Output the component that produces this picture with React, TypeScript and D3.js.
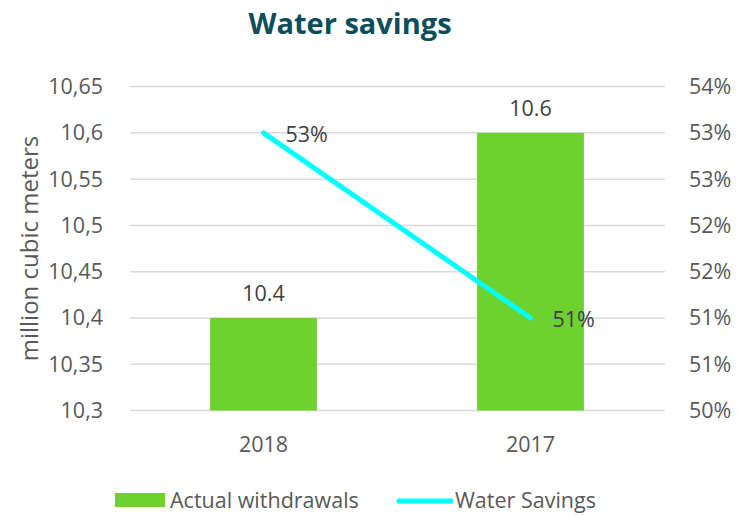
import React from "react";
import * as d3 from "d3";

const categories = ["2018", "2017"];
const withdrawals = [10.4, 10.6];
const savings = [0.53, 0.51];
const leftTicks = [10.3, 10.35, 10.4, 10.45, 10.5, 10.55, 10.6, 10.65];
const rightTicks = [0.5, 0.505, 0.51, 0.515, 0.52, 0.525, 0.53, 0.535];

const W = 738;
const H = 516;
const FONT = "'Open Sans', 'Noto Sans', sans-serif";
const TXT = "#595959";
const FS = 21.5;

export default function App() {
  const x = d3.scaleBand<string>().domain(categories).range([130, 664]).paddingInner(0.6).paddingOuter(0.3);
  const y = d3.scaleLinear().domain([10.3, 10.65]).range([410.5, 86.6]);
  const y2 = d3.scaleLinear().domain([0.5, 0.535]).range([410.5, 86.6]);
  const fmtL = (v: number) => {
    const s = d3.format(".2f")(v).replace(/0$/, "").replace(/\.$/, "");
    return s.replace(".", ",");
  };
  const fmtR = (v: number) => Math.round(v * 100 + 1e-9) + "%";
  const cx = (c: string) => (x(c) as number) + x.bandwidth() / 2;
  const line = d3
    .line<number>()
    .x((_, i) => cx(categories[i]))
    .y((d) => y2(d));

  return (
    <svg width={W} height={H} style={{ position: "absolute", left: 0, top: 0 }} fontFamily={FONT}>
      <rect width={W} height={H} fill="#fff" />
      <text x={350} y={34} textAnchor="middle" fontSize={29} fontWeight={700} fill="#0E4D5C">
        Water savings
      </text>
      {leftTicks.map((t) => (
        <g key={t}>
          <line x1={130} x2={665} y1={y(t)} y2={y(t)} stroke="#D9D9D9" strokeWidth={1.5} />
          <text x={103} y={y(t)} dy="0.35em" textAnchor="end" fontSize={FS} fill={TXT}>
            {fmtL(t)}
          </text>
        </g>
      ))}
      {rightTicks.map((t) => (
        <text key={t} x={689} y={y2(t)} dy="0.35em" textAnchor="start" fontSize={FS} fill={TXT}>
          {fmtR(t)}
        </text>
      ))}
      <text
        transform={`translate(30,${(410.5 + 86.6) / 2}) rotate(-90)`}
        textAnchor="middle"
        dy="0.35em"
        fontSize={24}
        fill={TXT}
      >
        million cubic meters
      </text>
      {categories.map((c, i) => (
        <g key={c}>
          <rect x={x(c)} y={y(withdrawals[i])} width={x.bandwidth()} height={y(10.3) - y(withdrawals[i])} fill="#6DD130" />
          <text x={cx(c)} y={y(withdrawals[i]) - 24} dy="0.35em" textAnchor="middle" fontSize={FS} fill="#404040">
            {withdrawals[i].toFixed(1)}
          </text>
          <text x={cx(c)} y={444} dy="0.35em" textAnchor="middle" fontSize={FS} fill={TXT}>
            {c}
          </text>
        </g>
      ))}
      <path d={line(savings) || ""} fill="none" stroke="#00FFFF" strokeWidth={5} strokeLinecap="round" />
      {savings.map((s, i) => (
        <text key={i} x={cx(categories[i]) + 22} y={y2(s) + 2} dy="0.35em" textAnchor="start" fontSize={FS} fill="#404040">
          {Math.round(s * 100) + "%"}
        </text>
      ))}
      <rect x={115} y={493} width={50} height={14} fill="#6DD130" />
      <text x={170} y={500} dy="0.35em" fontSize={FS} fill={TXT}>
        Actual withdrawals
      </text>
      <line x1={399} x2={451} y1={501} y2={501} stroke="#00FFFF" strokeWidth={5} strokeLinecap="round" />
      <text x={455} y={500} dy="0.35em" fontSize={FS} fill={TXT}>
        Water Savings
      </text>
    </svg>
  );
}
